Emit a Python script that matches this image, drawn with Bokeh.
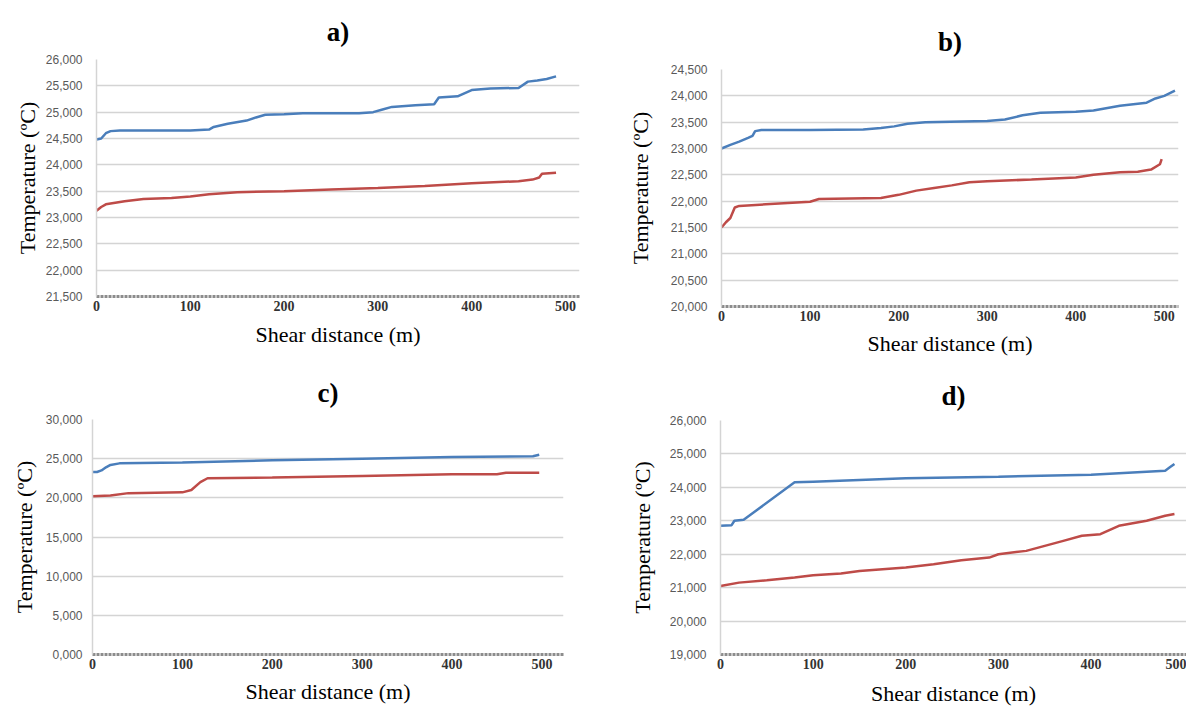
from bokeh.plotting import figure
from bokeh.layouts import column, row
from bokeh.models import Range1d, FixedTicker, CustomJSTickFormatter
from bokeh.embed import file_html
from bokeh.resources import INLINE

# ---------------- data (temperatures in ºC, distance in m) ----------------
a_blue_x = [0, 5, 10, 15, 25, 100, 120, 125, 140, 160, 170, 180, 200, 220, 280, 295, 305, 315, 340, 360, 365, 385, 400, 420, 450, 460, 470, 480, 490]
a_blue_y = [24.48, 24.50, 24.60, 24.64, 24.65, 24.65, 24.67, 24.72, 24.78, 24.84, 24.90, 24.95, 24.96, 24.98, 24.98, 25.00, 25.05, 25.10, 25.13, 25.15, 25.28, 25.30, 25.42, 25.45, 25.46, 25.58, 25.60, 25.63, 25.68]
a_red_x = [0, 5, 10, 20, 30, 50, 80, 100, 120, 150, 200, 250, 300, 350, 400, 450, 465, 472, 475, 490]
a_red_y = [23.13, 23.20, 23.25, 23.28, 23.31, 23.35, 23.37, 23.40, 23.44, 23.48, 23.50, 23.53, 23.56, 23.60, 23.65, 23.69, 23.72, 23.76, 23.83, 23.85]

b_blue_x = [0, 10, 20, 30, 35, 38, 45, 100, 160, 180, 195, 210, 230, 300, 320, 340, 360, 400, 420, 450, 470, 480, 490, 500, 512]
b_blue_y = [23.00, 23.07, 23.13, 23.20, 23.24, 23.33, 23.35, 23.35, 23.36, 23.39, 23.42, 23.47, 23.50, 23.52, 23.55, 23.63, 23.68, 23.70, 23.72, 23.81, 23.85, 23.87, 23.95, 24.00, 24.10]
b_red_x = [0, 5, 10, 15, 20, 50, 100, 110, 180, 200, 220, 240, 260, 280, 300, 350, 400, 420, 450, 470, 485, 495, 497]
b_red_y = [21.50, 21.60, 21.68, 21.88, 21.91, 21.94, 21.99, 22.04, 22.06, 22.12, 22.20, 22.25, 22.30, 22.36, 22.38, 22.41, 22.45, 22.50, 22.55, 22.56, 22.60, 22.70, 22.80]

c_blue_x = [0, 5, 10, 15, 20, 30, 100, 200, 300, 400, 490, 497]
c_blue_y = [23.3, 23.3, 23.5, 23.9, 24.2, 24.4, 24.5, 24.8, 25.0, 25.2, 25.3, 25.5]
c_red_x = [0, 20, 40, 100, 110, 120, 128, 200, 300, 400, 450, 460, 497]
c_red_y = [20.2, 20.3, 20.6, 20.7, 21.0, 22.0, 22.5, 22.6, 22.8, 23.0, 23.0, 23.2, 23.2]

d_blue_x = [0, 12, 15, 25, 80, 100, 200, 300, 400, 480, 485, 490]
d_blue_y = [22.85, 22.87, 23.00, 23.03, 24.15, 24.17, 24.27, 24.32, 24.38, 24.50, 24.60, 24.70]
d_red_x = [0, 20, 50, 80, 100, 130, 150, 200, 230, 260, 290, 300, 330, 350, 370, 390, 410, 430, 460, 480, 490]
d_red_y = [21.05, 21.15, 21.22, 21.30, 21.37, 21.42, 21.50, 21.60, 21.70, 21.82, 21.90, 22.00, 22.10, 22.25, 22.40, 22.55, 22.60, 22.85, 23.00, 23.15, 23.20]

a_yticks = [21.5, 22.0, 22.5, 23.0, 23.5, 24.0, 24.5, 25.0, 25.5, 26.0]
b_yticks = [20.0, 20.5, 21.0, 21.5, 22.0, 22.5, 23.0, 23.5, 24.0, 24.5]
c_yticks = [0, 5, 10, 15, 20, 25, 30]
d_yticks = [19, 20, 21, 22, 23, 24, 25, 26]
x_ticks = [0, 100, 200, 300, 400, 500]

titles = ["a)", "b)", "c)", "d)"]
x_label = "Shear distance (m)"
y_label = "Temperature (ºC)"

BLUE = "#4a7ebb"
RED = "#be4b48"


def panel(title, bx, by, rx, ry, yticks, xmax, fw, fh, bl, br, bt, bb,
          title_standoff, xlab_standoff, ylab_standoff, ytick_standoff):
    p = figure(frame_width=fw, frame_height=fh,
               x_range=Range1d(0, xmax), y_range=Range1d(yticks[0], yticks[-1]),
               output_backend="svg", toolbar_location=None,
               min_border_left=bl, min_border_right=br,
               min_border_top=bt, min_border_bottom=bb)
    p.outline_line_color = None
    p.background_fill_color = "white"
    p.border_fill_color = "white"

    p.title.text = title
    p.title.align = "center"
    p.title.text_font = "Liberation Serif"
    p.title.text_font_style = "bold"
    p.title.text_font_size = "27px"
    p.title.text_color = "black"
    p.title.standoff = title_standoff

    p.line(bx, by, line_color=BLUE, line_width=2.5)
    p.line(rx, ry, line_color=RED, line_width=2.5)

    p.xgrid.grid_line_color = None
    p.ygrid.grid_line_color = "#d4d4d4"
    p.ygrid.grid_line_width = 1.5

    p.yaxis.ticker = FixedTicker(ticks=yticks)
    p.yaxis.formatter = CustomJSTickFormatter(code="return tick.toFixed(3).replace('.', ',');")
    p.yaxis.major_tick_line_color = None
    p.yaxis.minor_tick_line_color = None
    p.yaxis.major_tick_out = 0
    p.yaxis.major_tick_in = 0
    p.yaxis.minor_tick_out = 0
    p.yaxis.axis_line_color = "#d4d4d4"
    p.yaxis.axis_line_width = 1.5
    p.yaxis.major_label_text_font = "Liberation Sans"
    p.yaxis.major_label_text_font_size = "12px"
    p.yaxis.major_label_text_color = "#595959"
    p.yaxis.major_label_standoff = ytick_standoff
    p.yaxis.axis_label = y_label
    p.yaxis.axis_label_text_font = "Liberation Serif"
    p.yaxis.axis_label_text_font_style = "normal"
    p.yaxis.axis_label_text_font_size = "22px"
    p.yaxis.axis_label_text_color = "black"
    p.yaxis.axis_label_standoff = ylab_standoff

    p.xaxis.ticker = FixedTicker(ticks=x_ticks)
    p.xaxis.major_tick_line_color = None
    p.xaxis.minor_tick_line_color = None
    p.xaxis.major_tick_out = 0
    p.xaxis.major_tick_in = 0
    p.xaxis.minor_tick_out = 0
    p.xaxis.axis_line_color = "#8c8c8c"
    p.xaxis.axis_line_width = 3
    p.xaxis.axis_line_dash = "3 1"
    p.xaxis.major_label_text_font = "Liberation Serif"
    p.xaxis.major_label_text_font_style = "bold"
    p.xaxis.major_label_text_font_size = "14px"
    p.xaxis.major_label_text_color = "#333333"
    p.xaxis.major_label_standoff = 4
    p.xaxis.axis_label = x_label
    p.xaxis.axis_label_text_font = "Liberation Serif"
    p.xaxis.axis_label_text_font_style = "normal"
    p.xaxis.axis_label_text_font_size = "22px"
    p.xaxis.axis_label_text_color = "black"
    p.xaxis.axis_label_standoff = xlab_standoff
    return p


pa = panel(titles[0], a_blue_x, a_blue_y, a_red_x, a_red_y, a_yticks, 515,
           483, 237, 96, 21, 59, 64, 26, 8, 3, 14)
pb = panel(titles[1], b_blue_x, b_blue_y, b_red_x, b_red_y, b_yticks, 516,
           457, 237, 121, 8, 69, 54, 26, 7, 15, 14)
pc = panel(titles[2], c_blue_x, c_blue_y, c_red_x, c_red_y, c_yticks, 524,
           471, 235, 92, 37, 59, 55, 24, 7, 6, 10)
pd = panel(titles[3], d_blue_x, d_blue_y, d_red_x, d_red_y, d_yticks, 503,
           466, 234, 120, 0, 60, 55, 20, 9, 12, 14)

# each figure is wrapped in its own column so that the rows do not align their frames
layout = column(row(column(pa), column(pb), spacing=0),
                row(column(pc), column(pd), spacing=0), spacing=0)

open("out.html", "w").write(file_html(layout, INLINE))
